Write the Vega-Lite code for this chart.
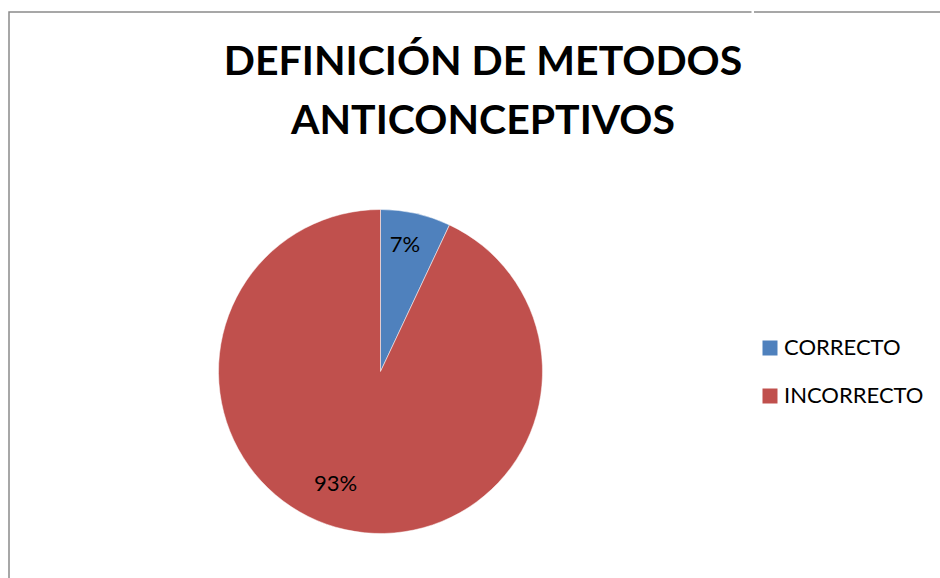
{
  "$schema": "https://vega.github.io/schema/vega-lite/v6.json",
  "autosize": {"type": "pad"},
  "padding": {"left": 8, "top": 11, "right": 0, "bottom": 0},
  "background": "white",
  "spacing": 0,
  "title": {
    "text": ["DEFINICIÓN DE METODOS", "ANTICONCEPTIVOS"],
    "font": "Lato",
    "fontSize": 41,
    "fontWeight": "bold",
    "color": "#000000",
    "lineHeight": 59,
    "anchor": "middle",
    "frame": "group",
    "baseline": "alphabetic",
    "dx": 474,
    "offset": -164
  },
  "data": {
    "values": [
      {"cat": "CORRECTO", "share": 0.07},
      {"cat": "INCORRECTO", "share": 0.93}
    ]
  },
  "hconcat": [
    {
      "width": 743,
      "height": 719,
      "view": {"stroke": "#8a8a8a", "strokeWidth": 1.5, "strokeDash": [742.5, 1463.5, 719, 5000]},
      "encoding": {
        "theta": {"field": "share", "type": "quantitative", "stack": true},
        "color": {
          "field": "cat",
          "type": "nominal",
          "scale": {"domain": ["CORRECTO", "INCORRECTO"], "range": ["#4F81BD", "#C0504D"]},
          "legend": {
            "title": null,
            "orient": "none",
            "legendX": 750,
            "legendY": 325,
            "symbolType": "square",
            "symbolSize": 225,
            "symbolStrokeWidth": 0,
            "labelFont": "Lato",
            "labelFontSize": 22,
            "labelColor": "#000000",
            "labelOffset": 3,
            "rowPadding": 26,
            "padding": 0
          }
        }
      },
      "layer": [
        {
          "mark": {"type": "arc", "outerRadius": 162, "stroke": "#ffffff", "strokeWidth": 0.5}
        },
        {
          "mark": {"type": "text", "radius": 130, "dx": -4, "font": "Lato", "fontSize": 22, "color": "#000000"},
          "encoding": {
            "color": {"value": "#000000"},
            "text": {"condition": {"test": "datum.cat === 'CORRECTO'", "field": "share", "format": ".0%"}, "value": ""}
          }
        },
        {
          "mark": {"type": "text", "radius": 123, "dx": -18, "dy": -8, "font": "Lato", "fontSize": 22, "color": "#000000"},
          "encoding": {
            "color": {"value": "#000000"},
            "text": {"condition": {"test": "datum.cat === 'INCORRECTO'", "field": "share", "format": ".0%"}, "value": ""}
          }
        }
      ]
    },
    {
      "width": 189,
      "height": 719,
      "view": {"stroke": "#8a8a8a", "strokeWidth": 1.5, "strokeDash": [189, 5000]},
      "mark": {"type": "text", "text": ""}
    }
  ]
}
